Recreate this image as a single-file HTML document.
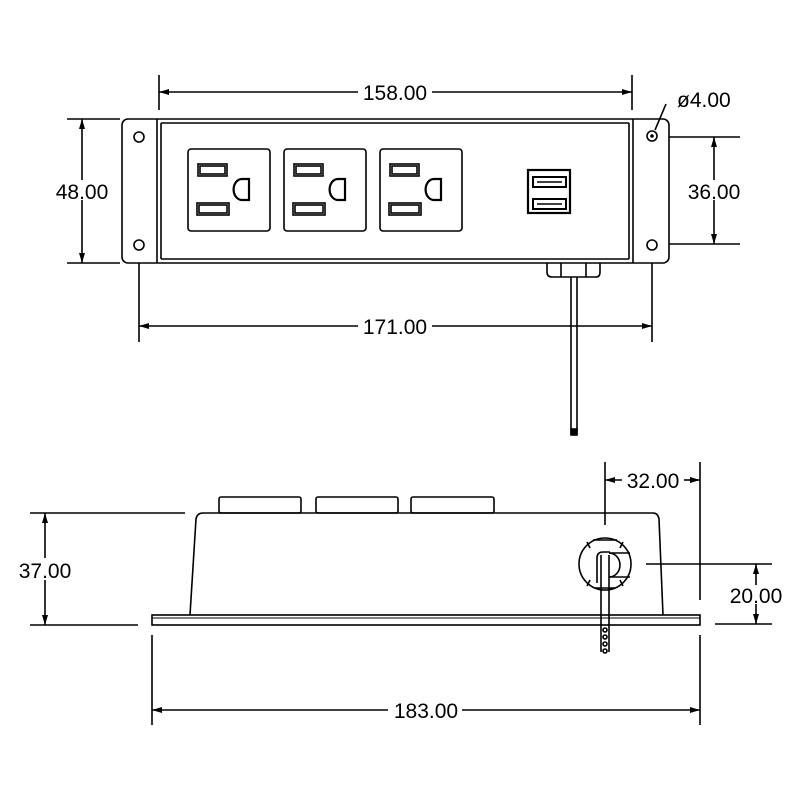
<!DOCTYPE html>
<html><head><style>html,body{margin:0;background:#fff}svg{display:block}</style></head><body>
<svg width="800" height="800" viewBox="0 0 800 800" xmlns="http://www.w3.org/2000/svg" font-family="Liberation Sans, sans-serif" font-size="21" fill="none" stroke="#000" stroke-width="1.6">
<defs>
<marker id="a" viewBox="0 0 10 6" refX="10" refY="3" markerWidth="10" markerHeight="6" markerUnits="userSpaceOnUse" orient="auto-start-reverse"><path d="M0,0 L10,3 L0,6 z" fill="#000" stroke="none"/></marker>
</defs>
<!-- TOP VIEW -->
<rect x="122" y="119" width="547" height="144" rx="6"/>
<line x1="157" y1="119" x2="157" y2="263"/><line x1="161" y1="123" x2="161" y2="259"/>
<line x1="633" y1="119" x2="633" y2="263"/><line x1="629" y1="123" x2="629" y2="259"/>
<line x1="161" y1="123" x2="629" y2="123"/><line x1="161" y1="259" x2="629" y2="259"/>
<circle cx="139" cy="137" r="5"/><circle cx="139" cy="245" r="5"/>
<circle cx="652" cy="136" r="5"/><circle cx="652" cy="136" r="1" fill="#000"/><circle cx="652" cy="245" r="5"/>
<g>
<rect x="188" y="149" width="82" height="82" rx="3"/>
<rect x="198" y="164" width="29" height="12"/><rect x="200" y="166" width="25" height="8"/>
<rect x="197" y="203" width="32" height="12"/><rect x="199" y="205" width="28" height="8"/>
<path d="M249,179 H242 A8,10 0 0 0 242,200 H249 Z" stroke-width="2.2"/>
</g>
<g transform="translate(96,0)">
<rect x="188" y="149" width="82" height="82" rx="3"/>
<rect x="198" y="164" width="29" height="12"/><rect x="200" y="166" width="25" height="8"/>
<rect x="197" y="203" width="32" height="12"/><rect x="199" y="205" width="28" height="8"/>
<path d="M249,179 H242 A8,10 0 0 0 242,200 H249 Z" stroke-width="2.2"/>
</g>
<g transform="translate(192,0)">
<rect x="188" y="149" width="82" height="82" rx="3"/>
<rect x="198" y="164" width="29" height="12"/><rect x="200" y="166" width="25" height="8"/>
<rect x="197" y="203" width="32" height="12"/><rect x="199" y="205" width="28" height="8"/>
<path d="M249,179 H242 A8,10 0 0 0 242,200 H249 Z" stroke-width="2.2"/>
</g>
<rect x="528" y="170" width="42" height="43" stroke-width="2.2"/>
<rect x="533" y="177" width="33" height="10" stroke-width="2"/><rect x="533" y="199" width="33" height="10" stroke-width="2"/>
<line x1="537" y1="182" x2="562" y2="182"/><line x1="537" y1="204" x2="562" y2="204"/>
<path d="M547,263 V272 Q547,277 552,277 H596 Q600,277 600,272 V263"/>
<line x1="561" y1="263" x2="561" y2="277"/><line x1="586" y1="263" x2="586" y2="277"/>
<line x1="571" y1="277" x2="571" y2="434"/><line x1="577" y1="277" x2="577" y2="434"/>
<rect x="571" y="429" width="6" height="6" fill="#000"/>
<!-- dims top -->
<line x1="159" y1="75" x2="159" y2="110"/><line x1="632" y1="75" x2="632" y2="110"/>
<line x1="159" y1="92" x2="358" y2="92" marker-start="url(#a)"/><line x1="432" y1="92" x2="632" y2="92" marker-end="url(#a)"/>
<text x="395" y="100" fill="#000" stroke="none" text-anchor="middle">158.00</text>
<line x1="67" y1="119" x2="120" y2="119"/><line x1="67" y1="263" x2="120" y2="263"/>
<line x1="82" y1="119" x2="82" y2="180" marker-start="url(#a)"/><line x1="82" y1="200" x2="82" y2="263" marker-end="url(#a)"/>
<text x="82" y="199" fill="#000" stroke="none" text-anchor="middle">48.00</text>
<line x1="669" y1="137" x2="740" y2="137"/><line x1="669" y1="244" x2="740" y2="244"/>
<line x1="714" y1="137" x2="714" y2="180" marker-start="url(#a)"/><line x1="714" y1="200" x2="714" y2="244" marker-end="url(#a)"/>
<text x="714" y="199" fill="#000" stroke="none" text-anchor="middle">36.00</text>
<line x1="139" y1="263" x2="139" y2="342"/><line x1="652" y1="263" x2="652" y2="342"/>
<line x1="139" y1="326" x2="358" y2="326" marker-start="url(#a)"/><line x1="432" y1="326" x2="652" y2="326" marker-end="url(#a)"/>
<text x="395" y="334" fill="#000" stroke="none" text-anchor="middle">171.00</text>
<line x1="655" y1="130" x2="666" y2="104"/>
<text x="677" y="107" fill="#000" stroke="none">ø4.00</text>
<!-- BOTTOM VIEW -->
<rect x="219" y="497" width="82" height="16" rx="2"/><rect x="316" y="497" width="82" height="16" rx="2"/><rect x="411" y="497" width="83" height="16" rx="2"/>
<path d="M190,615 L196,519 Q197,513 203,513 H653 Q658,513 659,519 L663,615"/>
<rect x="152" y="615" width="548" height="10"/>
<line x1="152" y1="618" x2="700" y2="618" stroke-width="1"/>
<circle cx="605" cy="564" r="26"/>
<line x1="593" y1="540" x2="617" y2="540"/><line x1="595" y1="588" x2="615" y2="588"/>
<line x1="587" y1="542" x2="590" y2="548"/><line x1="623" y1="542" x2="620" y2="548"/>
<line x1="587" y1="586" x2="590" y2="580"/><line x1="623" y1="586" x2="620" y2="580"/>
<path d="M609,553 A11,12 0 0 1 609,577"/><line x1="609" y1="553" x2="630" y2="553"/><line x1="609" y1="577" x2="630" y2="577"/>
<path d="M597,583 V558 Q597,552 603,552 H610"/>
<line x1="601" y1="555" x2="601" y2="652"/><line x1="609" y1="555" x2="609" y2="652"/>
<circle cx="605" cy="630" r="2"/><circle cx="605" cy="637" r="2"/><circle cx="605" cy="644" r="2"/><circle cx="605" cy="651" r="2"/>
<!-- dims bottom -->
<line x1="30" y1="513" x2="185" y2="513"/><line x1="30" y1="625" x2="138" y2="625"/>
<line x1="45" y1="513" x2="45" y2="558" marker-start="url(#a)"/><line x1="45" y1="580" x2="45" y2="625" marker-end="url(#a)"/>
<text x="45" y="578" fill="#000" stroke="none" text-anchor="middle">37.00</text>
<line x1="152" y1="635" x2="152" y2="725"/><line x1="700" y1="635" x2="700" y2="725"/>
<line x1="152" y1="710" x2="388" y2="710" marker-start="url(#a)"/><line x1="462" y1="710" x2="700" y2="710" marker-end="url(#a)"/>
<text x="426" y="718" fill="#000" stroke="none" text-anchor="middle">183.00</text>
<line x1="605" y1="462" x2="605" y2="525"/><line x1="700" y1="462" x2="700" y2="600"/>
<line x1="605" y1="480" x2="622" y2="480" marker-start="url(#a)"/><line x1="684" y1="480" x2="700" y2="480" marker-end="url(#a)"/>
<text x="653" y="488" fill="#000" stroke="none" text-anchor="middle">32.00</text>
<line x1="646" y1="564" x2="772" y2="564"/><line x1="715" y1="624" x2="772" y2="624"/>
<line x1="756" y1="564" x2="756" y2="585" marker-start="url(#a)"/><line x1="756" y1="604" x2="756" y2="624" marker-end="url(#a)"/>
<text x="756" y="603" fill="#000" stroke="none" text-anchor="middle">20.00</text>
</svg>
</body></html>
